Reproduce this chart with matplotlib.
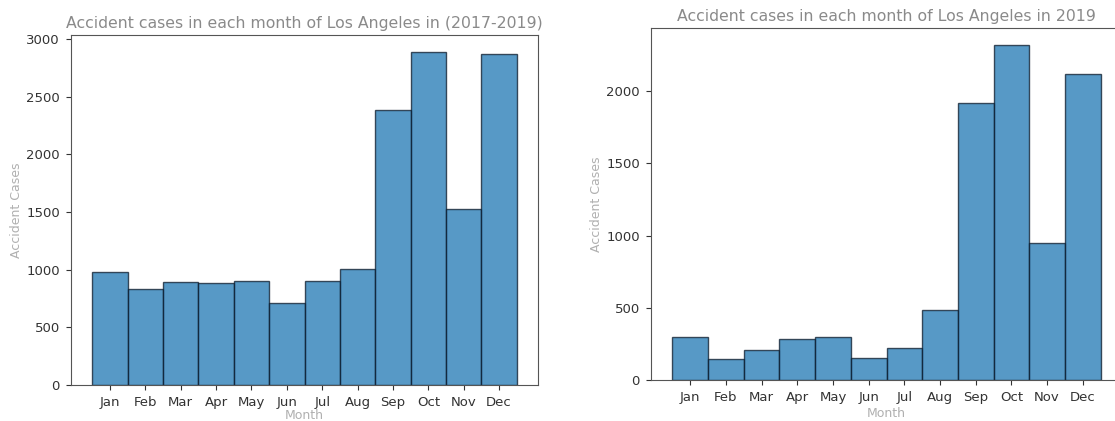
import numpy as np
import matplotlib
matplotlib.use('Agg')
import matplotlib.pyplot as plt

# dữ liệu
months = ['Jan', 'Feb', 'Mar', 'Apr', 'May', 'Jun',
          'Jul', 'Aug', 'Sep', 'Oct', 'Nov', 'Dec']
cases_2017_2019 = [979, 834, 892, 886, 901, 713, 901, 1008, 2382, 2890, 1530, 2867]
cases_2019 = [295, 143, 207, 281, 295, 150, 219, 484, 1917, 2320, 945, 2120]

W, H = 1115, 421
fig = plt.figure(figsize=(W / 100, H / 100), dpi=100)

bar_color = '#1f77b4'
title_color = '#8a8a8a'
label_color = '#b0b0b0'
tick_color = '#333333'


def px_axes(x0, y0, x1, y1):
    # toạ độ pixel (trái, trên, phải, dưới) -> toạ độ figure
    return [x0 / W, (H - y1) / H, (x1 - x0) / W, (y1 - y0) / H]


def draw(ax, values, title, xpad=2):
    pos = np.arange(1, len(months) + 1)
    ax.bar(pos, values, width=1.0, color=bar_color, alpha=0.75,
           edgecolor='#0b1a2a', linewidth=1.0)
    ax.set_xticks(pos)
    ax.set_xticklabels(months)
    ax.set_title(title, color=title_color, fontsize=11.3, pad=5)
    ax.set_xlabel('Month', color=label_color, fontsize=9, labelpad=xpad)
    ax.set_ylabel('Accident Cases', color=label_color, fontsize=9, labelpad=2)
    ax.tick_params(labelsize=9.5, colors=tick_color, length=3.5, pad=4.5)
    for s in ax.spines.values():
        s.set_color('#555555')


ax1 = fig.add_axes(px_axes(71, 35, 538, 385))
draw(ax1, cases_2017_2019, 'Accident cases in each month of Los Angeles in (2017-2019)', xpad=0)

ax2 = fig.add_axes(px_axes(651, 28, 1122, 380))
draw(ax2, cases_2019, 'Accident cases in each month of Los Angeles in 2019')
ax2.set_yticks([0, 500, 1000, 1500, 2000])

fig.savefig('out.png', dpi=100)
